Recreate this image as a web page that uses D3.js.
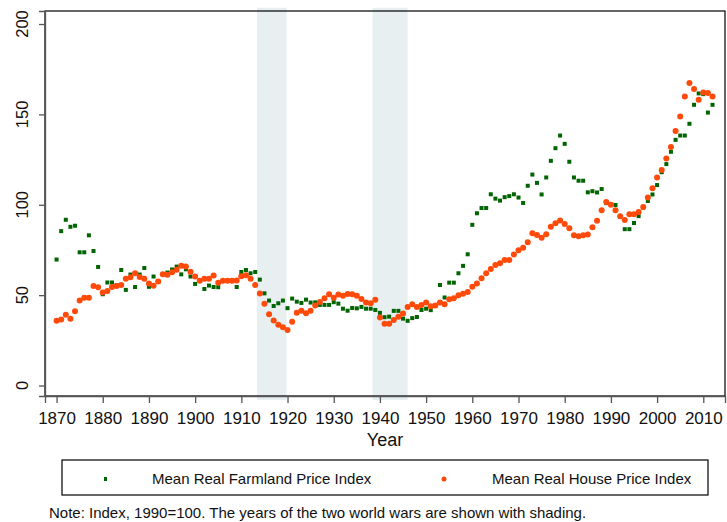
<!DOCTYPE html>
<html>
<head>
<meta charset="utf-8">
<script src="https://cdn.jsdelivr.net/npm/d3@7"></script>
<style>
  body { margin: 0; background: #fff; }
  svg { display: block; font-family: "Liberation Sans", Arial, sans-serif; }
</style>
</head>
<body>
<div id="chart"></div>
<script>
const width = 727;
const height = 522;

// years 1870..2012
const years = d3.range(1870, 2013);

// Mean Real Farmland Price Index (1990=100)
const farmland = [
  69.7, 85.4, 91.7, 87.8, 88.4, 73.7, 73.7, 83.1, 74.4, 65.6,
  50.5, 57.0, 57.0, 55.5, 63.9, 52.9, 61.4, 54.5, 61.4, 65.0,
  54.6, 60.3, 57.5, 61.5, 62.5, 64.2, 65.8, 61.5, 64.3, 60.3,
  56.2, 58.0, 53.4, 55.3, 54.5, 54.4, 58.0, 58.0, 58.0, 54.5,
  62.8, 63.9, 62.1, 62.8, 58.6, 51.0, 47.0, 44.0, 45.5, 47.0,
  42.8, 48.1, 46.4, 45.7, 47.5, 45.9, 46.0, 44.6, 44.6, 44.6,
  46.1, 45.3, 42.5, 41.4, 42.9, 42.7, 43.5, 42.5, 42.5, 41.8,
  40.2, 37.8, 38.1, 41.3, 41.3, 37.0, 35.8, 37.3, 37.9, 41.8,
  42.5, 41.7, 44.0, 55.6, 48.7, 56.9, 56.9, 62.1, 66.2, 72.6,
  88.9, 95.3, 98.2, 98.2, 105.8, 103.4, 102.3, 104.2, 104.8, 105.8,
  104.0, 101.0, 110.5, 116.7, 112.1, 105.7, 115.1, 124.3, 131.3, 138.3,
  133.7, 123.8, 115.1, 113.3, 113.3, 106.9, 107.5, 106.8, 108.7, 100.9,
  100.0, 99.9, 93.5, 86.5, 86.5, 89.9, 93.7, 98.5, 102.1, 105.7,
  110.9, 118.0, 122.5, 129.3, 135.9, 138.3, 138.3, 144.8, 155.3, 161.6,
  161.2, 151.0, 155.3
];

// Mean Real House Price Index (1990=100)
const house = [
  35.8, 36.5, 39.2, 37.0, 41.1, 47.1, 48.5, 48.5, 55.0, 54.3,
  51.5, 52.3, 54.5, 55.1, 55.6, 59.0, 59.9, 62.1, 60.0, 59.1,
  56.4, 55.2, 57.5, 61.5, 61.3, 62.7, 64.0, 66.2, 65.8, 63.0,
  60.3, 58.0, 59.1, 59.1, 60.8, 56.9, 58.0, 58.0, 57.9, 58.1,
  60.5, 61.0, 59.1, 55.6, 50.9, 45.3, 39.4, 36.0, 33.6, 32.2,
  30.7, 35.3, 40.3, 41.4, 40.0, 41.4, 44.2, 46.2, 48.3, 50.5,
  48.6, 50.3, 49.6, 50.7, 50.5, 49.6, 47.9, 45.9, 45.5, 47.5,
  37.6, 34.2, 34.2, 36.3, 38.1, 39.8, 43.4, 45.0, 43.5, 44.6,
  45.9, 43.9, 44.2, 45.9, 45.0, 47.7, 48.3, 49.9, 50.8, 51.8,
  54.7, 56.4, 59.4, 62.1, 64.5, 66.7, 67.7, 69.5, 69.5, 72.5,
  74.8, 76.2, 79.3, 84.3, 83.3, 81.8, 83.7, 87.8, 89.8, 91.3,
  89.4, 87.0, 83.2, 82.6, 83.2, 83.5, 87.6, 91.1, 97.0, 101.5,
  100.0, 97.0, 93.6, 91.6, 94.7, 94.7, 96.0, 98.8, 104.0, 109.2,
  115.1, 119.2, 125.6, 131.9, 140.8, 148.8, 159.9, 167.3, 164.0, 158.1,
  162.1, 161.8, 159.9
];

// shaded war periods (start, end in years)
const wars = [[1913.4, 1919.8], [1938.4, 1946.0]];

const xTicks = d3.range(1870, 2011, 10);
const yTicks = [0, 50, 100, 150, 200];

const seriesNames = ['Mean Real Farmland Price Index', 'Mean Real House Price Index'];
const noteText = 'Note: Index, 1990=100. The years of the two world wars are shown with shading.';

const green = '#006400';
const orange = '#ff4a0a';

function drawChart() {
    const plot = { left: 45, right: 725, top: 11, bottom: 396 };

    const svg = d3.select('#chart')
        .append('svg')
        .attr('width', width)
        .attr('height', height);

    const xScale = d3.scaleLinear()
        .domain([1867.5, 2014.7])
        .range([plot.left, plot.right]);

    const yScale = d3.scaleLinear()
        .domain([-5.8, 207.2])
        .range([plot.bottom, plot.top]);

    // war shading, a little taller than the frame
    svg.append('g')
        .selectAll('rect')
        .data(wars)
        .join('rect')
        .attr('x', d => xScale(d[0]))
        .attr('width', d => xScale(d[1]) - xScale(d[0]))
        .attr('y', yScale(209))
        .attr('height', yScale(-8) - yScale(209))
        .attr('fill', '#e8eff1');

    // frame
    svg.append('rect')
        .attr('x', plot.left)
        .attr('y', plot.top)
        .attr('width', plot.right - plot.left)
        .attr('height', plot.bottom - plot.top)
        .attr('fill', 'none')
        .attr('stroke', '#000')
        .attr('stroke-width', 1.2);

    // y axis
    const yAxis = svg.append('g')
        .attr('transform', `translate(${plot.left},0)`)
        .call(d3.axisLeft(yScale).tickValues(yTicks).tickSize(6).tickFormat(''));
    yAxis.select('.domain').attr('stroke', '#555').attr('stroke-width', 1.3);
    yAxis.selectAll('.tick line').attr('stroke', '#555').attr('stroke-width', 1.3);

    svg.append('g')
        .selectAll('text')
        .data(yTicks)
        .join('text')
        .attr('transform', d => `translate(28,${yScale(d)}) rotate(-90)`)
        .attr('text-anchor', 'middle')
        .attr('font-size', 16.5)
        .attr('fill', '#111')
        .text(d => d);

    // x axis
    const xAxis = svg.append('g')
        .attr('transform', `translate(0,${plot.bottom})`)
        .call(d3.axisBottom(xScale).tickValues(xTicks).tickSize(7).tickFormat(d => d));
    xAxis.select('.domain').attr('stroke', '#555').attr('stroke-width', 1.3);
    xAxis.selectAll('.tick line').attr('stroke', '#555').attr('stroke-width', 1.3);
    xAxis.selectAll('.tick text')
        .attr('y', 28)
        .attr('dy', 0)
        .attr('font-size', 17)
        .attr('font-family', '"Liberation Sans", Arial, sans-serif')
        .attr('fill', '#111');

    svg.append('text')
        .attr('x', (plot.left + plot.right) / 2)
        .attr('y', 446)
        .attr('text-anchor', 'middle')
        .attr('font-size', 18)
        .attr('fill', '#111')
        .text('Year');

    // farmland squares first, houses on top
    const pts = years.map((yr, i) => ({ year: yr, farm: farmland[i], house: house[i] }));

    svg.append('g')
        .selectAll('rect')
        .data(pts)
        .join('rect')
        .attr('x', d => xScale(d.year) - 2)
        .attr('y', d => yScale(d.farm) - 2)
        .attr('width', 4)
        .attr('height', 4)
        .attr('fill', green);

    svg.append('g')
        .selectAll('circle')
        .data(pts)
        .join('circle')
        .attr('cx', d => xScale(d.year))
        .attr('cy', d => yScale(d.house))
        .attr('r', 3)
        .attr('fill', orange);

    // legend
    const legend = svg.append('g');
    legend.append('rect')
        .attr('x', 62)
        .attr('y', 460)
        .attr('width', 646)
        .attr('height', 35)
        .attr('fill', 'none')
        .attr('stroke', '#000')
        .attr('stroke-width', 1.2);
    legend.append('rect')
        .attr('x', 104)
        .attr('y', 477)
        .attr('width', 3)
        .attr('height', 4)
        .attr('fill', green);
    legend.append('circle')
        .attr('cx', 444)
        .attr('cy', 479)
        .attr('r', 2.5)
        .attr('fill', orange);
    legend.selectAll('text.lbl')
        .data(seriesNames)
        .join('text')
        .attr('class', 'lbl')
        .attr('x', (d, i) => i === 0 ? 152 : 492)
        .attr('y', 484)
        .attr('font-size', 15)
        .attr('fill', '#111')
        .text(d => d);

    svg.append('text')
        .attr('x', 49)
        .attr('y', 518)
        .attr('font-size', 15)
        .attr('fill', '#111')
        .text(noteText);
}

drawChart();
</script>
</body>
</html>
